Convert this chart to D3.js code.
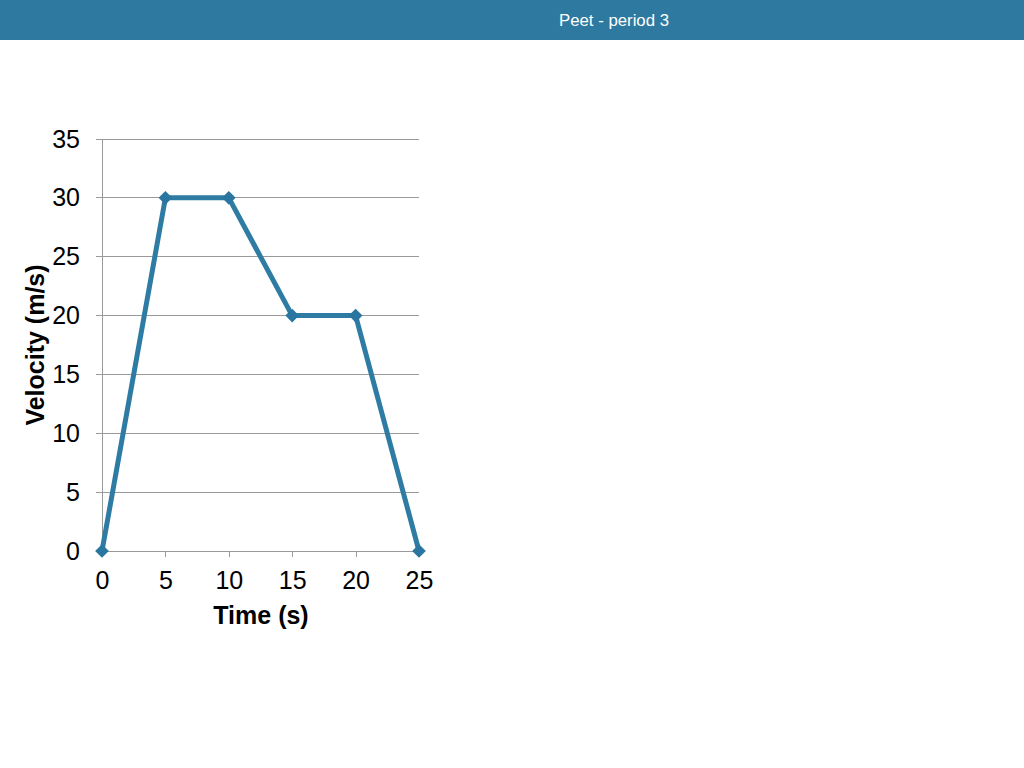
<!DOCTYPE html>
<html><head><meta charset="utf-8">
<script src="https://cdn.jsdelivr.net/npm/d3@7"></script>
<style>body{margin:0;background:#fff;} svg{display:block;}</style>
</head><body>
<script>
const title = "Peet - period 3";
const times = [0, 5, 10, 15, 20, 25];
const velocities = [0, 30, 30, 20, 20, 0];
const xTicks = [0, 5, 10, 15, 20, 25];
const yTicks = [0, 5, 10, 15, 20, 25, 30, 35];
const xLabel = "Time (s)";
const yLabel = "Velocity (m/s)";

const W = 1024, H = 768;
const svg = d3.select("body").append("svg").attr("width", W).attr("height", H);

svg.append("rect").attr("x",0).attr("y",0).attr("width",W).attr("height",40).attr("fill","#2d799f");
svg.append("text").attr("x",614).attr("y",26).attr("text-anchor","middle")
  .attr("font-family","'Liberation Sans',Arial,sans-serif").attr("font-size",16)
  .attr("textLength",110).attr("lengthAdjust","spacingAndGlyphs")
  .attr("fill","#fff").text(title);

const x = d3.scaleLinear().domain([0,25]).range([102,419]);
const y = d3.scaleLinear().domain([0,35]).range([551,139]);
const font = "'Liberation Sans',Arial,Helvetica,sans-serif";

// gridlines
svg.append("g").selectAll("line").data(yTicks).join("line")
  .attr("x1",96).attr("x2",419).attr("y1",d=>y(d)).attr("y2",d=>y(d))
  .attr("stroke","#9a9a9a").attr("stroke-width",1).attr("shape-rendering","crispEdges");

// y axis
const yAxis = d3.axisLeft(y).tickValues(yTicks).tickSize(0).tickPadding(22);
const gy = svg.append("g").attr("transform","translate(102,0)").call(yAxis);
gy.select(".domain").attr("stroke","#9a9a9a").attr("shape-rendering","crispEdges");
gy.selectAll("text").attr("font-family",font).attr("font-size",25).attr("fill","#000");

// x axis
const xAxis = d3.axisBottom(x).tickValues(xTicks).tickSize(6).tickPadding(14);
const gx = svg.append("g").attr("transform","translate(0,551)").call(xAxis);
gx.select(".domain").attr("stroke","#9a9a9a").attr("shape-rendering","crispEdges");
gx.selectAll(".tick line").attr("stroke","#9a9a9a").attr("shape-rendering","crispEdges");
gx.selectAll("text").attr("font-family",font).attr("font-size",25).attr("fill","#000");

// axis titles
svg.append("text").attr("x",261).attr("y",624).attr("text-anchor","middle")
  .attr("font-family",font).attr("font-weight","bold").attr("font-size",25).text(xLabel);
svg.append("text").attr("transform","translate(44,345) rotate(-90)").attr("text-anchor","middle")
  .attr("font-family",font).attr("font-weight","bold").attr("font-size",25).text(yLabel);

const data = times.map((t,i)=>({t, v: velocities[i]}));
svg.append("path").datum(data)
  .attr("d", d3.line().x(d=>x(d.t)).y(d=>y(d.v)))
  .attr("fill","none").attr("stroke","#2e7ca3").attr("stroke-width",5).attr("stroke-linejoin","round");

svg.append("g").selectAll("path").data(data).join("path")
  .attr("d", d3.symbol().type(d3.symbolDiamond2).size(120))
  .attr("transform", d=>`translate(${x(d.t)},${y(d.v)})`)
  .attr("fill","#2a76a0");
</script>
</body></html>
